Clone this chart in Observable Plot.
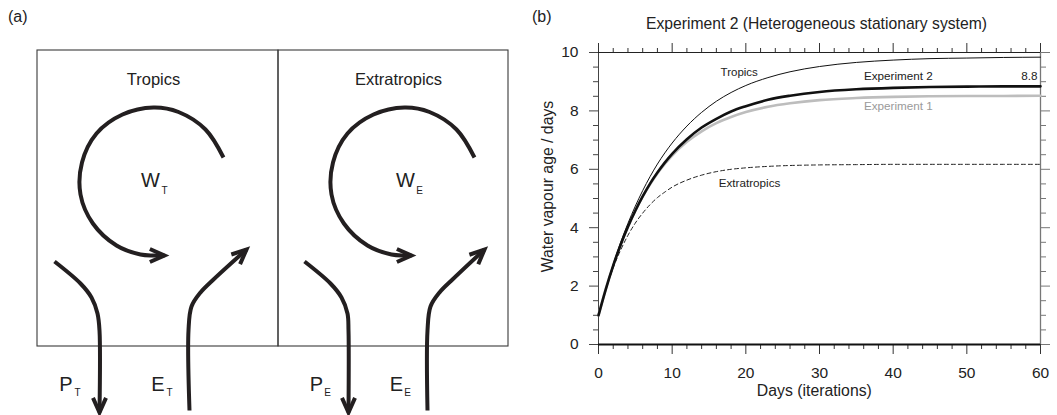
<!DOCTYPE html>
<html><head><meta charset="utf-8">
<script src="https://cdn.jsdelivr.net/npm/d3@7"></script>
<script src="https://cdn.jsdelivr.net/npm/@observablehq/plot@0.6"></script>
<style>
body{margin:0;background:#fff;font-family:"Liberation Sans",Arial,sans-serif;}
#wrap{position:relative;width:1057px;height:415px;overflow:hidden;background:#fff}
#a{position:absolute;left:0;top:0}
#b{position:absolute;left:530px;top:0}
.lab{position:absolute;font-size:16px;color:#222;line-height:18px}
.title{position:absolute;left:553px;width:527px;top:15px;text-align:center;font-size:15.7px;color:#222;line-height:18px}
</style></head><body>
<div id="wrap">
  <div id="a"></div>
  <div id="b"></div>
  <div class="lab" style="left:8px;top:8px">(a)</div>
  <div class="lab" style="left:532px;top:8px">(b)</div>
  <div class="title">Experiment 2 (Heterogeneous stationary system)</div>
</div>
<script>
// ---------- Panel (b) data: water vapour age (days) ----------
const days        = [0, 1, 2, 3, 4, 5, 6, 7, 8, 9, 10, 12, 14, 16, 18, 20, 23, 26, 30, 35, 40, 45, 50, 55, 60];
const tropics     = [1.00, 1.92, 2.75, 3.49, 4.15, 4.74, 5.27, 5.75, 6.18, 6.56, 6.90, 7.48, 7.95, 8.33, 8.63, 8.87, 9.14, 9.34, 9.52, 9.66, 9.74, 9.79, 9.81, 9.83, 9.84];
const experiment2 = [1.00, 1.90, 2.70, 3.41, 4.03, 4.58, 5.07, 5.51, 5.89, 6.23, 6.53, 7.03, 7.43, 7.73, 7.98, 8.16, 8.38, 8.52, 8.65, 8.74, 8.79, 8.82, 8.83, 8.84, 8.84];
const experiment1 = [1.00, 1.92, 2.72, 3.43, 4.05, 4.59, 5.07, 5.49, 5.86, 6.18, 6.47, 6.94, 7.30, 7.58, 7.79, 7.96, 8.14, 8.26, 8.37, 8.44, 8.48, 8.50, 8.51, 8.51, 8.52];
const extratropics= [1.00, 1.89, 2.63, 3.23, 3.74, 4.16, 4.50, 4.79, 5.03, 5.22, 5.39, 5.63, 5.80, 5.92, 6.00, 6.05, 6.10, 6.13, 6.15, 6.16, 6.17, 6.17, 6.17, 6.17, 6.17];
const xMajor = [0, 10, 20, 30, 40, 50, 60];
const xMinor = [2,4,6,8,12,14,16,18,22,24,26,28,32,34,36,38,42,44,46,48,52,54,56,58];
const yMajor = [0, 2, 4, 6, 8, 10];
const yMinor = [0.5,1,1.5,2.5,3,3.5,4.5,5,5.5,6.5,7,7.5,8.5,9,9.5];
const finalLabel = "8.8";

// ---------- Panel (a) schematic geometry (diagram units) ----------
const boxes = [
  {name: "Tropics", x1: 37, x2: 278, y1: 50, y2: 346},
  {name: "Extratropics", x1: 278, x2: 508, y1: 50, y2: 346}
];
const arcTropics = [[223,157],[205,129],[178,111.5],[153,107],[122,114],[96,133],[81.5,162],[80,194],[92.4,223],[116,245],[140,254],[153,255],[164,255]];
const arcExtra   = [[474,157],[456,129],[429,111.5],[404,107],[373,114],[347,133],[332.5,162],[331,194],[343.4,223],[367,245],[391,254],[404,255],[411,255]];
const precipT = [[54,261],[80,283],[91,297],[97,313],[99,330],[99,412]];
const evapT   = [[189,410],[188,330],[191,306],[200,292],[213,279],[246,249]];
const precipE = [[304,261],[330,283],[341,297],[347,313],[348,330],[348,412]];
const evapE   = [[427,410],[427,330],[430,306],[439,292],[452,279],[484,249]];
const mainLabels = [{t: "Tropics", x: 153, y: 79}, {t: "Extratropics", x: 398, y: 79}];
const bigLabels  = [{t: "W", x: 150, y: 180}, {t: "W", x: 405, y: 180}, {t: "P", x: 65.5, y: 384}, {t: "E", x: 157.5, y: 384}, {t: "P", x: 316, y: 384}, {t: "E", x: 396, y: 384}];
const subLabels  = [{t: "T", x: 164, y: 190}, {t: "E", x: 419, y: 190}, {t: "T", x: 77, y: 392}, {t: "T", x: 169, y: 392}, {t: "E", x: 327, y: 392}, {t: "E", x: 407, y: 392}];

const font = "Liberation Sans, Arial, sans-serif";
const ink = "#231f20";

// ---------- Panel (a) ----------
const paths = [arcTropics, arcExtra, precipT, evapT, precipE, evapE];
const pathPts = paths.flatMap((p, i) => p.map(([x, y]) => ({id: i, x, y})));
// chevron arrowheads oriented along each path's final segment
const headLen = 16, headHalf = 24 * Math.PI / 180;
const headPts = paths.flatMap((p, i) => {
  const [px, py] = p[p.length - 2], [tx, ty] = p[p.length - 1];
  const n = Math.hypot(tx - px, ty - py), dx = (tx - px) / n, dy = (ty - py) / n;
  const wing = a => [tx - headLen * (dx * Math.cos(a) - dy * Math.sin(a)), ty - headLen * (dx * Math.sin(a) + dy * Math.cos(a))];
  const w1 = wing(headHalf), w2 = wing(-headHalf);
  return [w1, [tx, ty], w2].map(([x, y]) => ({id: i, x, y}));
});

const plotA = Plot.plot({
  width: 530, height: 415, margin: 0,
  x: {domain: [0, 530], axis: null},
  y: {domain: [0, 415], reverse: true, axis: null},
  style: {fontFamily: font, background: "transparent"},
  marks: [
    Plot.rect(boxes, {x1: "x1", x2: "x2", y1: "y1", y2: "y2", fill: "none", stroke: "#3a3a3a", strokeWidth: 1.1}),
    Plot.line(pathPts, {x: "x", y: "y", z: "id", curve: "catmull-rom", stroke: ink, strokeWidth: 4, strokeLinecap: "butt"}),
    Plot.line(headPts, {x: "x", y: "y", z: "id", stroke: ink, strokeWidth: 4, strokeLinejoin: "miter", strokeMiterlimit: 10, strokeLinecap: "butt"}),
    Plot.text(mainLabels, {x: "x", y: "y", text: "t", fontSize: 16.5, fill: "#222"}),
    Plot.text(bigLabels, {x: "x", y: "y", text: "t", fontSize: 20, fill: "#222"}),
    Plot.text(subLabels, {x: "x", y: "y", text: "t", fontSize: 10, fill: "#222"})
  ]
});
document.getElementById("a").appendChild(plotA);

// ---------- Panel (b) ----------
const rows = (name, vals) => days.map((d, i) => ({series: name, day: d, v: vals[i]}));
const blank = () => "";

const plotB = Plot.plot({
  width: 527, height: 415,
  marginLeft: 68, marginRight: 17, marginTop: 52, marginBottom: 71,
  x: {domain: [0, 60]},
  y: {domain: [0, 10]},
  style: {fontFamily: font, color: "#222", background: "transparent"},
  marks: [
    Plot.axisX({ticks: xMajor, tickSize: 10, tickPadding: 12, fontSize: 15.5, label: null, stroke: "#333"}),
    Plot.axisX({ticks: xMinor, tickSize: 5, tickFormat: blank, label: null, stroke: "#333"}),
    Plot.axisX({anchor: "top", ticks: xMajor, tickSize: 10, tickFormat: blank, label: null, stroke: "#333"}),
    Plot.axisX({anchor: "top", ticks: xMinor, tickSize: 5, tickFormat: blank, label: null, stroke: "#333"}),
    Plot.axisY({ticks: yMajor, tickSize: 9, tickPadding: 11, fontSize: 15.5, label: null, stroke: "#444"}),
    Plot.axisY({ticks: yMinor, tickSize: 5, tickFormat: blank, label: null, stroke: "#444"}),
    Plot.axisY({anchor: "right", ticks: yMajor, tickSize: 9, tickFormat: blank, label: null, stroke: "#777"}),
    Plot.axisY({anchor: "right", ticks: yMinor, tickSize: 5, tickFormat: blank, label: null, stroke: "#777"}),
    Plot.ruleX([0], {stroke: "#444"}),
    Plot.ruleX([60], {stroke: "#777", strokeWidth: 1.3}),
    Plot.ruleY([10], {stroke: "#222"}),
    Plot.ruleY([0], {stroke: "#111", strokeWidth: 2}),
    Plot.line(rows("Experiment 1", experiment1), {x: "day", y: "v", curve: "monotone-x", stroke: "#bdbdbd", strokeWidth: 2.6}),
    Plot.line(rows("Extratropics", extratropics), {x: "day", y: "v", curve: "monotone-x", stroke: "#222", strokeWidth: 1, strokeDasharray: "4,3"}),
    Plot.line(rows("Tropics", tropics), {x: "day", y: "v", curve: "monotone-x", stroke: "#111", strokeWidth: 1}),
    Plot.line(rows("Experiment 2", experiment2), {x: "day", y: "v", curve: "monotone-x", stroke: "#111", strokeWidth: 2.6}),
    Plot.text([{t: "Tropics", x: 19.1, y: 9.31}], {x: "x", y: "y", text: "t", fontSize: 11.5, fill: "#222"}),
    Plot.text([{t: "Experiment 2", x: 40.7, y: 9.18}], {x: "x", y: "y", text: "t", fontSize: 11.7, fill: "#222"}),
    Plot.text([{t: finalLabel, x: 59.6, y: 9.17}], {x: "x", y: "y", text: "t", fontSize: 11.7, textAnchor: "end", fill: "#222"}),
    Plot.text([{t: "Experiment 1", x: 40.7, y: 8.15}], {x: "x", y: "y", text: "t", fontSize: 11.7, fill: "#9a9a9a"}),
    Plot.text([{t: "Extratropics", x: 20.5, y: 5.51}], {x: "x", y: "y", text: "t", fontSize: 11.7, fill: "#222"}),
    Plot.text([{t: "Days (iterations)", x: 29.3}], {x: "x", text: "t", frameAnchor: "bottom", dy: 51, fontSize: 15.8, fill: "#222"}),
    Plot.text([{t: "Water vapour age / days", y: 5.41}], {y: "y", text: "t", frameAnchor: "left", textAnchor: "middle", dx: -51, rotate: -90, fontSize: 15.8, fill: "#222"})
  ]
});
document.getElementById("b").appendChild(plotB);
</script>
</body></html>
